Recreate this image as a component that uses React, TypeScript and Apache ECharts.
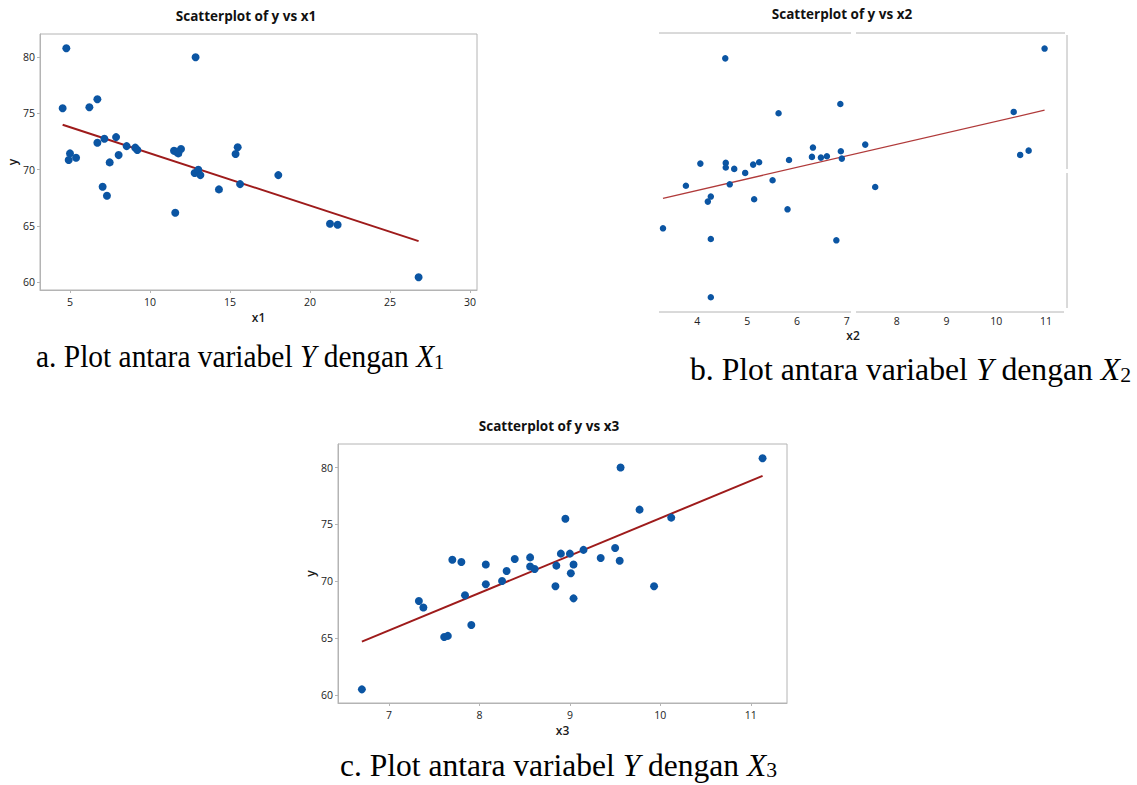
import React, { useEffect, useRef } from "react";
import * as echarts from "echarts";

// ---- Data ----
// Chart a: y vs x1
const x1Vals = [4.77, 4.54, 6.21, 6.71, 12.85, 6.71, 7.15, 7.88, 8.54, 9.08, 9.21, 5.0, 4.92, 5.38, 8.04, 7.48, 7.04, 7.31, 11.5, 11.77, 11.94, 11.65, 11.58, 12.79, 13.02, 13.15, 14.31, 15.35, 15.48, 15.63, 18.02, 21.25, 21.73, 26.79];
const yA = [80.8, 75.46, 75.55, 76.26, 80.0, 72.4, 72.76, 72.9, 72.1, 71.96, 71.75, 71.45, 70.86, 71.07, 71.3, 70.65, 68.49, 67.69, 71.69, 71.45, 71.84, 71.6, 66.17, 69.7, 70.0, 69.52, 68.25, 71.4, 72.0, 68.72, 69.52, 65.19, 65.1, 60.44];
const fitX1 = [4.54, 26.79];
const fitY1 = [74.0, 63.65];

// Chart b: y vs x2
const x2Vals = [10.97, 4.56, 6.87, 5.63, 10.35, 6.32, 7.37, 6.88, 10.65, 10.48, 6.3, 6.48, 6.6, 6.9, 5.84, 4.06, 4.57, 4.57, 5.24, 5.12, 4.74, 4.96, 5.51, 3.77, 4.65, 7.57, 4.27, 4.21, 5.14, 5.81, 3.31, 4.27, 6.79, 4.27];
const yB = [80.8, 80.0, 76.28, 75.52, 75.63, 72.72, 72.96, 72.42, 72.47, 72.12, 71.96, 71.9, 72.01, 71.82, 71.71, 71.41, 71.47, 71.09, 71.52, 71.33, 70.98, 70.65, 70.05, 69.6, 69.72, 69.5, 68.72, 68.31, 68.5, 67.68, 66.13, 65.26, 65.15, 60.5];
const fitX2 = [3.31, 10.97];
const fitY2 = [68.58, 75.77];

// Chart c: y vs x3
const x3Vals = [6.7, 11.13, 9.56, 9.77, 10.12, 8.95, 9.5, 9.15, 8.9, 9.0, 9.34, 8.56, 8.39, 7.7, 7.8, 9.55, 8.07, 9.04, 8.85, 8.56, 8.61, 8.3, 9.01, 8.25, 8.07, 8.84, 9.93, 7.84, 9.04, 7.33, 7.38, 7.91, 7.61, 7.65];
const yC = [60.5, 80.82, 80.0, 76.3, 75.6, 75.5, 72.93, 72.76, 72.43, 72.43, 72.05, 72.1, 71.96, 71.9, 71.7, 71.8, 71.47, 71.47, 71.38, 71.3, 71.08, 70.9, 70.7, 70.03, 69.74, 69.56, 69.56, 68.77, 68.5, 68.27, 67.7, 66.16, 65.1, 65.2];
const fitX3 = [6.7, 11.13];
const fitY3 = [64.69, 79.27];

const yTicks = [60, 65, 70, 75, 80];
const x1Ticks = [5, 10, 15, 20, 25, 30];
const x2Ticks = [4, 5, 6, 7, 8, 9, 10, 11];
const x3Ticks = [7, 8, 9, 10, 11];

const titles = ["Scatterplot of y vs x1", "Scatterplot of y vs x2", "Scatterplot of y vs x3"];

const SANS = "'Open Sans', 'Noto Sans', sans-serif";
const SERIF = "'Liberation Serif', 'Times New Roman', serif";
const BLUE = "#0b55a3";
const RED = "#9e1b1b";
const FRAME = "#b4b4b4";

const pairs = (xs: number[], ys: number[]) => xs.map((x, i) => [x, ys[i]]);

function xAxisCfg(gridIndex: number, min: number, max: number, ticks: number[], name: string, nameGap: number, showLine: boolean, namePad: number[], labelMargin: number) {
  return {
    type: "value",
    gridIndex,
    min,
    max,
    name,
    nameLocation: "middle",
    nameGap,
    nameTextStyle: { fontSize: 12, color: "#1a1a1a", fontFamily: SANS, fontWeight: 600, padding: namePad },
    axisLine: { show: showLine, lineStyle: { color: FRAME } },
    axisTick: { show: showLine, length: 3, customValues: ticks, lineStyle: { color: FRAME } },
    axisLabel: { customValues: ticks, fontSize: 10.5, color: "#222", margin: labelMargin, fontFamily: SANS },
    splitLine: { show: false },
  };
}

function yAxisCfg(gridIndex: number, show: boolean, name: string, nameGap: number) {
  return {
    type: "value",
    gridIndex,
    min: 59.3,
    max: 82.07,
    show,
    name,
    nameLocation: "middle",
    nameGap,
    nameRotate: 90,
    nameTextStyle: { fontSize: 12, color: "#1a1a1a", fontFamily: SANS, fontWeight: 600 },
    axisLine: { show: true, lineStyle: { color: FRAME } },
    axisTick: { show: true, length: 3, customValues: yTicks, lineStyle: { color: FRAME } },
    axisLabel: { customValues: yTicks, fontSize: 10.5, color: "#222", margin: 5, fontFamily: SANS },
    splitLine: { show: false },
  };
}

function scatter(idx: number, xs: number[], ys: number[], size: number) {
  return {
    type: "scatter",
    xAxisIndex: idx,
    yAxisIndex: idx,
    data: pairs(xs, ys),
    symbol: "circle",
    symbolSize: size,
    itemStyle: { color: BLUE, opacity: 1 },
    z: 3,
  };
}

function fit(idx: number, xs: number[], ys: number[], width: number, color: string) {
  return {
    type: "line",
    xAxisIndex: idx,
    yAxisIndex: idx,
    data: pairs(xs, ys),
    symbol: "none",
    lineStyle: { color, width },
    z: 2,
  };
}

function caption(x: number, y: number, label: string, sub: string, scaleX: number) {
  return {
    type: "text",
    x,
    y,
    scaleX,
    style: {
      text: `{n|${label} Plot antara variabel }{i|Y}{n| dengan }{i|X}{s|${sub}}`,
      textVerticalAlign: "bottom",
      verticalAlign: "bottom",
      rich: {
        n: { fontFamily: SERIF, fontSize: 32, fill: "#000", verticalAlign: "bottom", lineHeight: 32 },
        i: { fontFamily: SERIF, fontSize: 32, fontStyle: "italic", fill: "#000", verticalAlign: "bottom", lineHeight: 32 },
        s: { fontFamily: SERIF, fontSize: 22, fill: "#000", verticalAlign: "bottom", lineHeight: 16 },
      },
    },
  };
}

function titleText(x: number, y: number, text: string) {
  return {
    type: "text",
    x,
    y,
    style: {
      text,
      fill: "#111",
      fontFamily: SANS,
      fontSize: 13.5,
      fontWeight: "bold",
      align: "center",
      textAlign: "center",
      verticalAlign: "middle",
      textVerticalAlign: "middle",
    },
  };
}

function hline(x1: number, x2: number, y: number) {
  return { type: "line", shape: { x1, y1: y, x2, y2: y }, style: { stroke: FRAME, lineWidth: 1 } };
}
function vline(x: number, y1: number, y2: number) {
  return { type: "line", shape: { x1: x, y1, x2: x, y2 }, style: { stroke: FRAME, lineWidth: 1 } };
}

export default function App() {
  const ref = useRef<HTMLDivElement>(null);
  useEffect(() => {
    if (!ref.current) return;
    const chart = echarts.init(ref.current, undefined, { renderer: "svg" });
    const option = {
      animation: false,
      backgroundColor: "#ffffff",
      grid: [
        { left: 40, top: 34, width: 437, height: 256, show: true, borderColor: FRAME, borderWidth: 1, containLabel: false },
        { left: 659, top: 33, width: 408, height: 279, show: false, containLabel: false },
        { left: 338, top: 444, width: 449, height: 259, show: true, borderColor: FRAME, borderWidth: 1, containLabel: false },
      ],
      xAxis: [
        xAxisCfg(0, 3.125, 30.44, x1Ticks, "x1", 21, true, [0, 0, 0, 0], 6),
        xAxisCfg(1, 3.23, 11.42, x2Ticks, "x2", 17, false, [0, 20, 0, 0], 3),
        xAxisCfg(2, 6.436, 11.4, x3Ticks, "x3", 21, true, [0, 0, 0, 0], 6),
      ],
      yAxis: [yAxisCfg(0, true, "y", 22), yAxisCfg(1, false, "", 22), yAxisCfg(2, true, "y", 22)],
      series: [
        fit(0, fitX1, fitY1, 2, RED),
        scatter(0, x1Vals, yA, 8),
        fit(1, fitX2, fitY2, 1.3, "#b03a3a"),
        scatter(1, x2Vals, yB, 6.5),
        fit(2, fitX3, fitY3, 2, RED),
        scatter(2, x3Vals, yC, 8),
      ],
      graphic: [
        titleText(246, 16, titles[0]),
        titleText(842, 14, titles[1]),
        titleText(549, 426, titles[2]),
        // broken frame of chart b as in the reference
        hline(659, 851, 33),
        hline(856, 1065, 33),
        vline(1067, 35, 169),
        vline(1067, 173, 308),
        hline(659, 851, 312),
        hline(856, 1064, 312),
        caption(36, 373, "a.", "1", 0.92),
        caption(690, 385, "b.", "2", 0.99),
        caption(340, 781, "c.", "3", 0.985),
      ],
    };
    chart.setOption(option as any);
    return () => chart.dispose();
  }, []);
  return <div ref={ref} style={{ position: "absolute", left: 0, top: 0, width: 1137, height: 785 }} />;
}
